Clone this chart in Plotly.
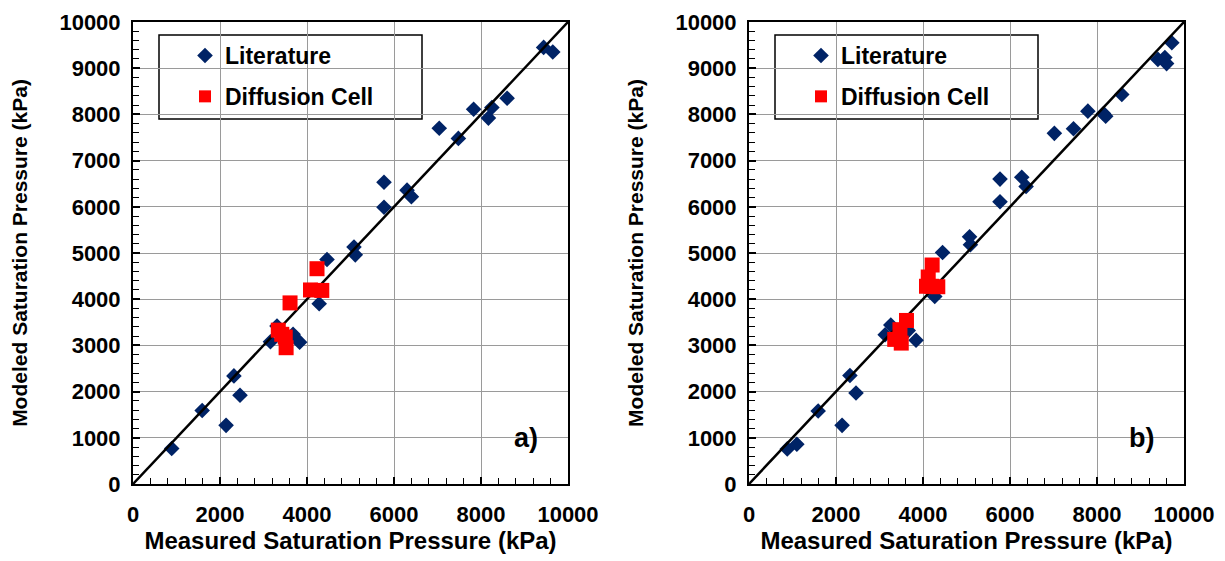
import plotly.graph_objects as go

# Panel a) - literature data: measured vs modeled saturation pressure (kPa)
lit_a_measured = [890, 1590, 2140, 2320, 2460, 3160, 3310, 3680, 3830, 4280, 4460,
                  5080, 5110, 5770, 5770, 6300, 6400, 7040, 7480, 7830, 8170, 8250,
                  8600, 9440, 9650]
lit_a_modeled = [770, 1590, 1270, 2340, 1920, 3080, 3420, 3240, 3070, 3900, 4860,
                 5130, 4960, 6530, 5990, 6360, 6220, 7700, 7480, 8110, 7920, 8150,
                 8350, 9450, 9350]
# Panel a) - diffusion cell data
cell_a_measured = [3340, 3420, 3500, 3520, 3610, 4080, 4340, 4230]
cell_a_modeled = [3330, 3240, 3180, 2950, 3920, 4200, 4190, 4660]

# Panel b) - literature data
lit_b_measured = [880, 1100, 1590, 2140, 2320, 2460, 3130, 3260, 3660, 3840, 4270,
                  4450, 5070, 5090, 5770, 5770, 6270, 6370, 7020, 7460, 7790, 8150,
                  8200, 8570, 9400, 9560, 9600, 9720]
lit_b_modeled = [760, 860, 1580, 1270, 2350, 1970, 3230, 3440, 3320, 3110, 4060,
                 5010, 5350, 5180, 6600, 6110, 6640, 6440, 7590, 7690, 8070, 8020,
                 7960, 8430, 9190, 9230, 9100, 9550]
# Panel b) - diffusion cell data
cell_b_measured = [3350, 3470, 3500, 3620, 4080, 4200, 4340, 4120, 4210]
cell_b_modeled = [3130, 3340, 3050, 3540, 4280, 4280, 4270, 4480, 4740]

# Parity line
parity = [0, 10000]
xtick_vals = [0, 2000, 4000, 6000, 8000, 10000]
xtick_text = ["0", "2000", "4000", "6000", "8000", "10000"]
ytick_vals = list(range(0, 10001, 1000))
ytick_text = [str(v) for v in ytick_vals]
panel_labels = ["a)", "b)"]

NAVY = "#002366"
RED = "#FF0000"
FONT = "Liberation Sans, Arial, sans-serif"

W, H = 1225, 561
# plot areas in pixels: (left, right), shared top/bottom
panel_px = [(133, 568), (749, 1184)]
top_px, bottom_px = 22, 484
y_domain = [1 - bottom_px / H, 1 - top_px / H]

fig = go.Figure()

panels = [
    (lit_a_measured, lit_a_modeled, cell_a_measured, cell_a_modeled),
    (lit_b_measured, lit_b_modeled, cell_b_measured, cell_b_modeled),
]

for i, (lx, ly, cx, cy) in enumerate(panels):
    xa = "x" if i == 0 else "x2"
    ya = "y" if i == 0 else "y2"
    leg = "legend" if i == 0 else "legend2"
    fig.add_trace(go.Scatter(
        x=lx, y=ly, mode="markers", name="Literature",
        marker=dict(symbol="diamond", size=12, color=NAVY, line=dict(width=0)),
        xaxis=xa, yaxis=ya, legend=leg, legendgroup=f"lit{i}",
    ))
    fig.add_trace(go.Scatter(
        x=parity, y=parity, mode="lines", showlegend=False,
        line=dict(color="black", width=2.5), xaxis=xa, yaxis=ya,
    ))
    fig.add_trace(go.Scatter(
        x=cx, y=cy, mode="markers", name="Diffusion Cell",
        marker=dict(symbol="square", size=15, color=RED, line=dict(width=0)),
        xaxis=xa, yaxis=ya, legend=leg, legendgroup=f"cell{i}",
    ))

tick_font = dict(family=FONT, size=22, color="black", weight="bold")
xtitle_font = dict(family=FONT, size=24, color="black", weight="bold")
ytitle_font = dict(family=FONT, size=21, color="black", weight="bold")


def xaxis_cfg(px, anchor):
    return dict(
        domain=[px[0] / W, px[1] / W], anchor=anchor, range=[0, 10000],
        tickvals=xtick_vals, ticktext=xtick_text,
        ticks="inside", ticklen=7, tickwidth=1.5, tickcolor="black",
        minor=dict(dtick=400, tick0=0, ticks="inside", ticklen=6, tickcolor="black",
                   tickwidth=1, showgrid=False),
        showgrid=True, gridcolor="#9a9a9a", gridwidth=1,
        showline=True, linecolor="black", linewidth=2, mirror=True,
        zeroline=False, tickfont=tick_font, ticklabelstandoff=10, automargin=False,
        title=dict(text="Measured Saturation Pressure (kPa)", font=xtitle_font, standoff=6),
    )


def yaxis_cfg(anchor):
    return dict(
        domain=y_domain, anchor=anchor, range=[0, 10000],
        tickvals=ytick_vals, ticktext=ytick_text,
        ticks="inside", ticklen=7, tickwidth=1.5, tickcolor="black",
        minor=dict(dtick=200, tick0=0, ticks="inside", ticklen=6, tickcolor="black",
                   tickwidth=1, showgrid=False),
        showgrid=True, gridcolor="#9a9a9a", gridwidth=1,
        showline=True, linecolor="black", linewidth=2, mirror=True,
        zeroline=False, tickfont=tick_font, ticklabelstandoff=6, automargin=False,
        title=dict(text="Modeled Saturation Pressure (kPa)", font=ytitle_font, standoff=26),
    )


legend_common = dict(
    bgcolor="rgba(0,0,0,0)", borderwidth=0,
    font=dict(family=FONT, size=23, color="black", weight="bold"),
    tracegroupgap=8, itemsizing="constant",
    xanchor="left", yanchor="top", orientation="v",
)

fig.update_layout(
    width=W, height=H,
    margin=dict(l=0, r=0, t=0, b=0),
    paper_bgcolor="white", plot_bgcolor="white",
    showlegend=True,
    xaxis=xaxis_cfg(panel_px[0], "y"),
    yaxis=yaxis_cfg("x"),
    xaxis2=xaxis_cfg(panel_px[1], "y2"),
    yaxis2=yaxis_cfg("x2"),
    legend=dict(x=(panel_px[0][0] + 52) / W, y=1 - 34 / H, **legend_common),
    legend2=dict(x=(panel_px[1][0] + 52) / W, y=1 - 34 / H, **legend_common),
)

# Legend frames
for left, _ in panel_px:
    fig.add_shape(
        type="rect", xref="paper", yref="paper",
        x0=(left + 26) / W, x1=(left + 289) / W,
        y0=1 - 119 / H, y1=1 - 35 / H,
        line=dict(color="black", width=1.5), fillcolor="white", layer="between",
    )

for i, lbl in enumerate(panel_labels):
    fig.add_annotation(
        x=9030, y=1000, xref="x" if i == 0 else "x2", yref="y" if i == 0 else "y2",
        text=lbl, showarrow=False,
        font=dict(family=FONT, size=27, color="black", weight="bold"),
    )

fig.write_html("out.html")
